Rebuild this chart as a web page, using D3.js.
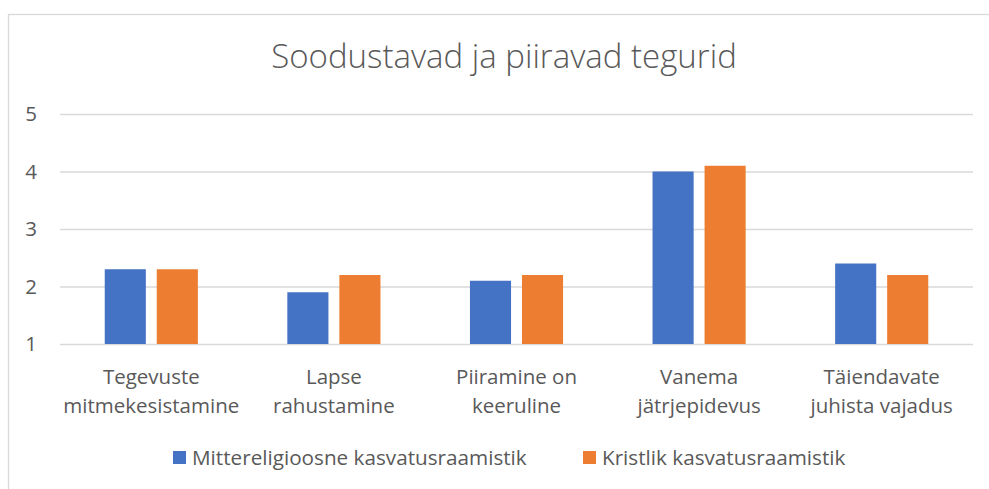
<!DOCTYPE html>
<html>
<head>
<meta charset="utf-8">
<script src="https://cdn.jsdelivr.net/npm/d3@7"></script>
<style>
  body { margin: 0; background: #fff; }
  svg { display: block; }
  svg text { font-family: "Open Sans", Lato, sans-serif; }
  .axis path { display: none; }
  .y.axis .tick line { stroke: #d9d9d9; stroke-width: 1.3; }
  .axis text { fill: #595959; font-size: 20.5px; }
  .x.axis .tick line { display: none; }
  .title { fill: #595959; font-size: 33px; font-weight: 300; }
  .legend text { fill: #595959; font-size: 20.7px; }
</style>
</head>
<body>
<div id="bar-chart"></div>
<script>
// Data
var CATEGORIES = [
  "Tegevuste mitmekesistamine",
  "Lapse rahustamine",
  "Piiramine on keeruline",
  "Vanema jätrjepidevus",
  "Täiendavate juhista vajadus"
];
var SERIES = ["Mittereligioosne kasvatusraamistik", "Kristlik kasvatusraamistik"];
var MITTERELIGIOOSNE = [2.3, 1.9, 2.1, 4.0, 2.4];
var KRISTLIK = [2.3, 2.2, 2.2, 4.1, 2.2];
var Y_TICKS = [1, 2, 3, 4, 5];
var COLORS = ["#4472C4", "#ED7D31"];

var width = 989;
var height = 489;
var margins = { top: 114, right: 16, bottom: 145, left: 60 };

// build rows for the grouped bars
var rows = CATEGORIES.map(function(c, i) {
  return { label: c, values: [MITTERELIGIOOSNE[i], KRISTLIK[i]] };
});

// wrap long labels onto several lines (like Excel does)
var wrapText = function(texts, maxWidth, firstBaseline, lineHeight) {
  texts.each(function() {
    var text = d3.select(this);
    var words = text.text().split(/\s+/);
    text.text(null).attr("dy", null).attr("y", null);
    var line = [];
    var lineNo = 0;
    var tspan = text.append("tspan").attr("x", 0).attr("y", firstBaseline);
    words.forEach(function(word) {
      line.push(word);
      tspan.text(line.join(" "));
      if (tspan.node().getComputedTextLength() > maxWidth && line.length > 1) {
        line.pop();
        tspan.text(line.join(" "));
        line = [word];
        lineNo++;
        tspan = text.append("tspan")
          .attr("x", 0)
          .attr("y", firstBaseline + lineNo * lineHeight)
          .text(word);
      }
    });
  });
};

var render = function() {
  var chartWidth = width - margins.left - margins.right;
  var chartHeight = height - margins.top - margins.bottom;

  var container = d3.select("#bar-chart");
  container.html("");

  var svg = container.append("svg")
    .attr("width", width)
    .attr("height", height);

  // chart frame (cropped on the right and bottom)
  svg.append("rect")
    .attr("x", 8.5)
    .attr("y", 14.5)
    .attr("width", 1100)
    .attr("height", 600)
    .attr("fill", "none")
    .attr("stroke", "#d9d9d9")
    .attr("stroke-width", 1.3);

  svg.append("text")
    .attr("class", "title")
    .attr("x", 504)
    .attr("y", 68)
    .attr("text-anchor", "middle")
    .text("Soodustavad ja piiravad tegurid");

  var chartElement = svg.append("g")
    .attr("transform", `translate(${margins.left},${margins.top})`);

  var xScale = d3.scaleBand()
    .domain(CATEGORIES)
    .range([0, chartWidth]);

  var xInner = d3.scaleBand()
    .domain(d3.range(SERIES.length))
    .range([0, xScale.bandwidth()])
    .paddingInner(0.21)
    .paddingOuter(0.86);

  var yScale = d3.scaleLinear()
    .domain([1, 5])
    .range([chartHeight, 0]);

  var yAxis = d3.axisLeft(yScale)
    .tickValues(Y_TICKS)
    .tickSize(-chartWidth)
    .tickPadding(23)
    .tickFormat(d3.format("d"));

  chartElement.append("g")
    .attr("class", "y axis")
    .call(yAxis)
    .attr("font-family", null)
    .attr("font-size", null);

  var xAxis = d3.axisBottom(xScale)
    .tickSize(0);

  chartElement.append("g")
    .attr("class", "x axis")
    .attr("transform", `translate(0,${chartHeight})`)
    .call(xAxis)
    .attr("font-family", null)
    .attr("font-size", null)
    .selectAll(".tick text")
    .call(wrapText, 165, 40, 29);

  // bars
  chartElement.append("g")
    .attr("class", "bars")
    .selectAll("g")
    .data(rows)
    .enter()
    .append("g")
    .attr("transform", d => `translate(${xScale(d.label)},0)`)
    .selectAll("rect")
    .data(d => d.values)
    .enter()
    .append("rect")
    .attr("x", (d, i) => xInner(i))
    .attr("y", d => yScale(d))
    .attr("width", xInner.bandwidth())
    .attr("height", d => yScale(1) - yScale(d))
    .attr("fill", (d, i) => COLORS[i]);

  // legend
  var legendX = [173, 583];
  var legend = svg.append("g").attr("class", "legend");
  SERIES.forEach(function(s, i) {
    legend.append("rect")
      .attr("x", legendX[i])
      .attr("y", 451)
      .attr("width", 13)
      .attr("height", 13)
      .attr("fill", COLORS[i]);
    legend.append("text")
      .attr("x", legendX[i] + 19)
      .attr("y", 465)
      .text(s);
  });
};

render();
</script>
</body>
</html>
